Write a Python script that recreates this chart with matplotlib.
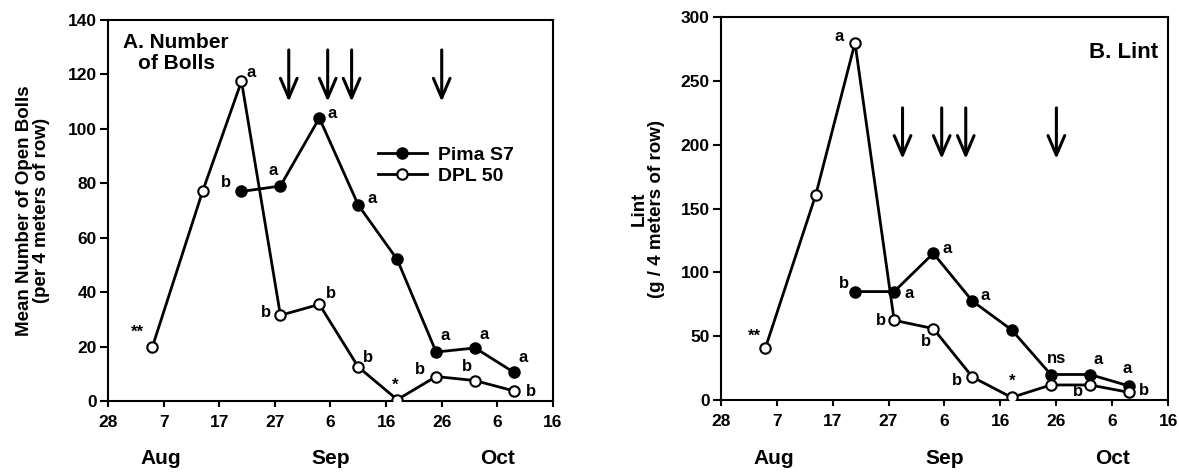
import matplotlib.pyplot as plt

plt.rcParams['font.family'] = ['Liberation Sans', 'DejaVu Sans']
plt.rcParams['font.weight'] = 'bold'

# x axis: days counted from 28 Jul
tick_days = [0, 10, 20, 30, 40, 50, 60, 70, 80]
tick_labels = ['28', '7', '17', '27', '6', '16', '26', '6', '16']
month_names = ['Aug', 'Sep', 'Oct']
month_days = [9.5, 40, 70]

dpl_days = [8, 17, 24, 31, 38, 45, 52, 59, 66, 73]
pima_days = [24, 31, 38, 45, 52, 59, 66, 73]
arrow_days = [32.5, 39.5, 43.8, 60]

# A. number of bolls
bolls_dpl = [20, 77, 117.5, 31.5, 35.5, 12.5, 0.5, 9, 7.5, 3.7]
bolls_pima = [77, 79, 104, 72, 52, 18, 19.5, 10.5]
bolls_dpl_marks = ['**', '', 'a', 'b', 'b', 'b', '*', 'b', 'b', 'b']
bolls_pima_marks = ['b', 'a', 'a', 'a', '', 'a', 'a', 'a']

# B. lint
lint_dpl = [41, 161, 280, 62.5, 56, 18, 2, 11.8, 11.8, 6]
lint_pima = [85, 85, 115, 77.5, 55, 20, 20, 11]
lint_dpl_marks = ['**', '', 'a', 'b', 'b', 'b', '*', '', 'b', 'b']
lint_pima_marks = ['b', 'a', 'a', 'a', '', 'ns', 'a', 'a']

# label offsets (pixels) from each point
bolls_dpl_off = [(-15, 14), (0, 0), (10, 9), (-14, 3), (12, 11), (10, 9),
                 (-2, 14), (-16, 7), (-8, 14), (17, -1)]
bolls_pima_off = [(-15, 9), (-7, 16), (13, 4), (14, 7), (0, 0), (9, 17),
                  (9, 13), (9, 15)]
lint_dpl_off = [(-11, 11), (0, 0), (-16, 6), (-13, 0), (-7, -13), (-15, -3),
                (1, 16), (0, 0), (-12, -7), (15, 2)]
lint_pima_off = [(-11, 8), (15, -2), (14, 5), (13, 6), (0, 0), (6, 16),
                 (8, 15), (-2, 17)]

fig = plt.figure(figsize=(11.79, 4.73), dpi=100)
ax1 = fig.add_axes([0.0916, 0.1522, 0.3774, 0.8055])
ax2 = fig.add_axes([0.6113, 0.1543, 0.3796, 0.8091])


def draw_panel(ax, dpl, pima, dpl_marks, pima_marks, dpl_off, pima_off,
               ymax, ystep, arrow_top, arrow_bot):
    ax.plot(pima_days, pima, '-o', color='black', lw=2, ms=7.5,
            mfc='black', mec='black', mew=1.5, label='Pima S7', zorder=3)
    ax.plot(dpl_days, dpl, '-o', color='black', lw=2, ms=7.5,
            mfc='white', mec='black', mew=1.5, label='DPL 50', zorder=4)

    for days, vals, marks, offs in [(dpl_days, dpl, dpl_marks, dpl_off),
                                    (pima_days, pima, pima_marks, pima_off)]:
        for d, v, m, o in zip(days, vals, marks, offs):
            if m:
                ax.annotate(m, (d, v), xytext=o, textcoords='offset pixels',
                            ha='center', va='center', fontsize=12,
                            fontweight='bold', zorder=5)

    for d in arrow_days:
        ax.annotate('', xy=(d, arrow_bot), xytext=(d, arrow_top),
                    arrowprops=dict(arrowstyle='->,head_length=0.7,head_width=0.3',
                                    lw=2.2, color='black', mutation_scale=20,
                                    shrinkA=0, shrinkB=0))

    ax.set_xlim(0, 80)
    ax.set_ylim(0, ymax)
    ax.set_xticks(tick_days)
    ax.set_xticklabels(tick_labels)
    ax.set_yticks(range(0, ymax + 1, ystep))
    ax.tick_params(axis='both', labelsize=12.5, width=1.5)
    ax.tick_params(axis='x', direction='out', length=4, pad=6)
    ax.tick_params(axis='y', direction='out', length=6, pad=2)
    for lab in ax.get_xticklabels() + ax.get_yticklabels():
        lab.set_fontweight('bold')
    for s in ax.spines.values():
        s.set_linewidth(1.5)

    for name, d in zip(month_names, month_days):
        ax.text(d, -0.152, name, transform=ax.get_xaxis_transform(),
                ha='center', va='center', fontsize=15, fontweight='bold')


draw_panel(ax1, bolls_dpl, bolls_pima, bolls_dpl_marks, bolls_pima_marks,
           bolls_dpl_off, bolls_pima_off, 140, 20, 129, 110)
draw_panel(ax2, lint_dpl, lint_pima, lint_dpl_marks, lint_pima_marks,
           lint_dpl_off, lint_pima_off, 300, 50, 229, 189)

ax1.set_ylabel('Mean Number of Open Bolls\n(per 4 meters of row)',
               fontsize=13.5, fontweight='bold', linespacing=1.05)
ax1.yaxis.set_label_coords(-0.13, 0.5)
ax2.set_ylabel('Lint\n(g / 4 meters of row)',
               fontsize=13.5, fontweight='bold', linespacing=1.05)
ax2.yaxis.set_label_coords(-0.124, 0.5)

ax1.text(0.153, 0.965, 'A. Number\nof Bolls', transform=ax1.transAxes,
         ha='center', va='top', fontsize=15, fontweight='bold', linespacing=1.1)
ax2.text(0.977, 0.907, 'B. Lint', transform=ax2.transAxes,
         ha='right', va='center', fontsize=16, fontweight='bold')

ax1.legend(loc='center left', bbox_to_anchor=(0.607, 0.618), frameon=False,
           handlelength=2.5, handletextpad=0.6,
           labelspacing=0.2, borderpad=0, borderaxespad=0,
           prop={'weight': 'bold', 'size': 14})

fig.savefig('out.png', dpi=100)
